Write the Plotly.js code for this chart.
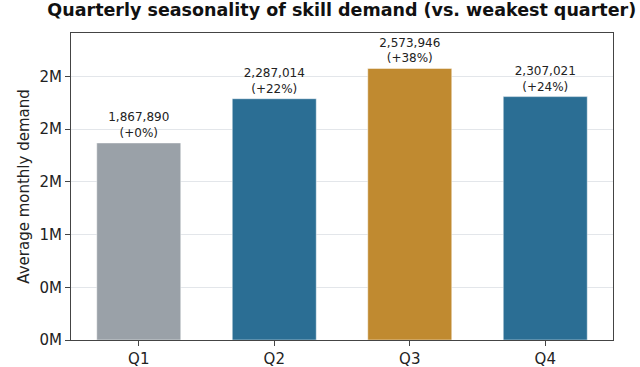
<!DOCTYPE html>
<html><head><meta charset="utf-8">
<script src="https://cdn.plot.ly/plotly-3.0.1.min.js"></script>
<style>html,body{margin:0;padding:0;background:#fff}#chart{width:640px;height:367px}</style>
</head><body><div id="chart"></div>
<script>
const quarters = ["Q1", "Q2", "Q3", "Q4"];
const demand = [1867890, 2287014, 2573946, 2307021];
const pctVsWeakest = [0, 22, 38, 24];
const barColors = ["#9aa1a8", "#2b6e94", "#c08a30", "#2b6e94"];
const tickVals = [0, 500000, 1000000, 1500000, 2000000, 2500000];
const tickText = ["0M", "0M", "1M", "2M", "2M", "2M"];

const labels = demand.map((v, i) => v.toLocaleString("en-US") + "<br>(+" + pctVsWeakest[i] + "%)");

const trace = {
  type: "bar",
  x: quarters,
  y: demand,
  width: 0.62,
  marker: {color: barColors, line: {color: "rgba(255,255,255,0.6)", width: 0.8}},
  text: labels,
  textposition: "outside",
  textfont: {family: "DejaVu Sans", size: 12, color: "#222"},
  cliponaxis: false,
  hoverinfo: "none"
};

const layout = {
  width: 640, height: 367,
  margin: {l: 71, r: 27, t: 33, b: 27},
  paper_bgcolor: "#fff", plot_bgcolor: "#fff",
  title: {text: "<b>Quarterly seasonality of skill demand (vs. weakest quarter)</b>",
          font: {family: "DejaVu Sans", size: 17.5, color: "#111"},
          x: 0.534, xanchor: "center", y: 0.99, yanchor: "top"},
  showlegend: false,
  xaxis: {
    range: [-0.5, 3.5], showgrid: false, zeroline: false,
    showline: true, linecolor: "#444", linewidth: 1, mirror: true,
    ticks: "outside", ticklen: 5, tickcolor: "#444",
    tickfont: {family: "DejaVu Sans", size: 15, color: "#222"}
  },
  yaxis: {
    range: [0, 2910000], tickvals: tickVals, ticktext: tickText,
    showgrid: true, gridcolor: "#e3e6ea", gridwidth: 1, zeroline: false,
    showline: true, linecolor: "#444", linewidth: 1, mirror: true,
    ticks: "outside", ticklen: 5, tickcolor: "#444",
    tickfont: {family: "DejaVu Sans", size: 15, color: "#222"},
    title: {text: "Average monthly demand", font: {family: "DejaVu Sans", size: 15, color: "#222"}, standoff: 6}
  },
  bargap: 0.38
};

Plotly.newPlot("chart", [trace], layout, {displayModeBar: false, staticPlot: true});
</script>
</body></html>
